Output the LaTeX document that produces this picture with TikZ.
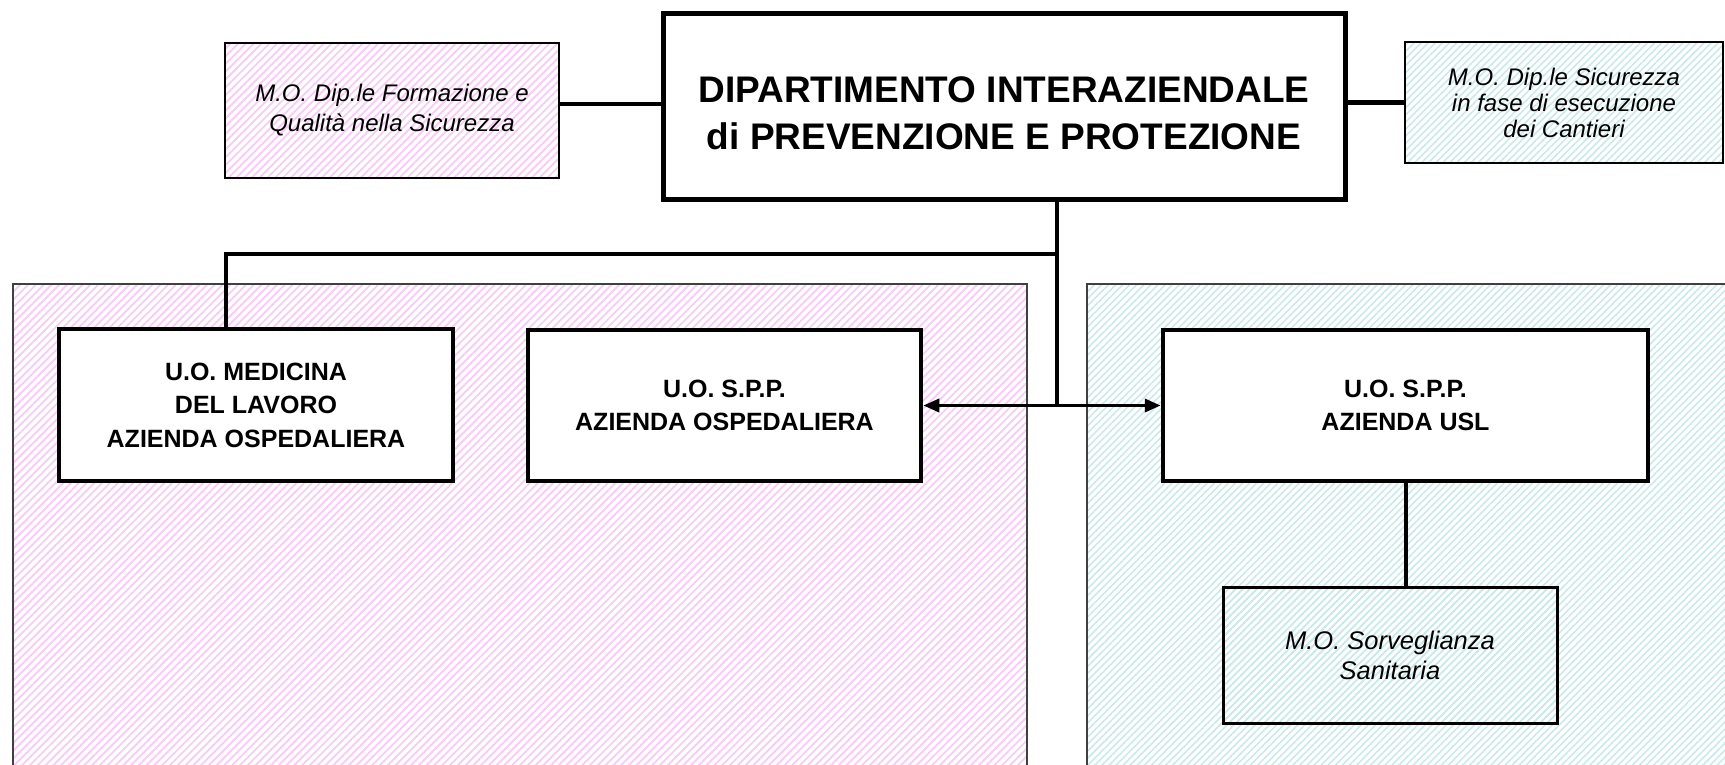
\documentclass[tikz,border=0pt]{standalone}
\usepackage{fontspec}
\setmainfont{Liberation Sans}
\usetikzlibrary{arrows.meta,patterns.meta}
\definecolor{ao-pink}{RGB}{248,204,247}
\definecolor{usl-cyan}{RGB}{202,233,235}

\tikzset{
  unitbox/.style={draw, line width=4.5pt, fill=white, align=center,
    inner sep=0pt, font=\bfseries\fontsize{25}{33.5}\selectfont},
  mobox/.style={draw, line width=2pt, align=center, inner sep=0pt,
    font=\itshape\fontsize{24}{30}\selectfont},
  pinkarea/.style={draw=black!75, line width=1.5pt,
    pattern={Lines[angle=45,distance=5.5pt,line width=1.9pt]}, pattern color=ao-pink},
  cyanarea/.style={draw=black!75, line width=1.5pt,
    pattern={Lines[angle=45,distance=5pt,line width=1.6pt]}, pattern color=usl-cyan},
  link/.style={line width=4.5pt},
}

\begin{document}
\begin{tikzpicture}[x=1pt, y=-1pt]
  \useasboundingbox (0,0) rectangle (1725,764);

  % Aree delle due aziende
  \path[pinkarea] (13,284) rectangle (1027,772);
  \path[cyanarea] (1087,284) rectangle (1732,772);

  % Dipartimento
  \node[unitbox, line width=5pt, minimum width=682pt, minimum height=186pt] (dip) at (1004,106) {};
  \node[align=center, font=\bfseries\fontsize{37}{47}\selectfont] (diptitle)
    at ([yshift=-7pt]dip.center) {DIPARTIMENTO INTERAZIENDALE\\di PREVENZIONE E PROTEZIONE};

  % Moduli organizzativi in alto
  \node[mobox, pinkarea, draw=black, line width=2pt,
        minimum width=334pt, minimum height=135pt] (formaz) at (392,110.5)
    {M.O. Dip.le Formazione e\\Qualità nella Sicurezza};
  \node[mobox, cyanarea, draw=black, line width=2pt,
        font=\itshape\fontsize{24}{26}\selectfont,
        minimum width=318pt, minimum height=121pt] (cantieri) at (1564,102.5)
    {M.O. Dip.le Sicurezza\\in fase di esecuzione\\dei Cantieri};

  % Unita operative
  \node[unitbox, minimum width=394pt, minimum height=152pt] (medicina) at (256,405)
    {U.O. MEDICINA\\DEL LAVORO\\AZIENDA OSPEDALIERA};
  \node[unitbox, minimum width=393pt, minimum height=151pt] (sppao) at (724.5,405.5)
    {U.O. S.P.P.\\AZIENDA OSPEDALIERA};
  \node[unitbox, minimum width=485pt, minimum height=151pt] (sppusl) at (1405.5,405.5)
    {U.O. S.P.P.\\AZIENDA USL};

  % Sorveglianza
  \node[mobox, cyanarea, draw=black, line width=3pt,
        font=\itshape\fontsize{25.5}{30}\selectfont,
        minimum width=334pt, minimum height=136pt] (sorv) at (1390,655)
    {M.O. Sorveglianza\\Sanitaria};

  % Collegamenti
  \coordinate (spine) at (1057,254);
  \coordinate (medtop) at (226,254);
  \coordinate (uslfoot) at (1406,481);
  \draw[link] (dip.south -| spine) -- (spine) -- (medtop) -- (medtop |- medicina.north);
  \draw[link] (spine) -- (spine |- sppao.east);
  \draw[link] ([yshift=6.5pt]formaz.east) -- ([yshift=6.5pt]formaz.east -| dip.west);
  \draw[link] (cantieri.west) -- (cantieri.west -| dip.east);
  \draw[link] (uslfoot) -- (uslfoot |- sorv.north);
  \draw[line width=3.5pt, {Triangle[length=16pt,width=13pt]}-{Triangle[length=16pt,width=13pt]}]
    (sppao.east) -- (sppusl.west);
\end{tikzpicture}
\end{document}
